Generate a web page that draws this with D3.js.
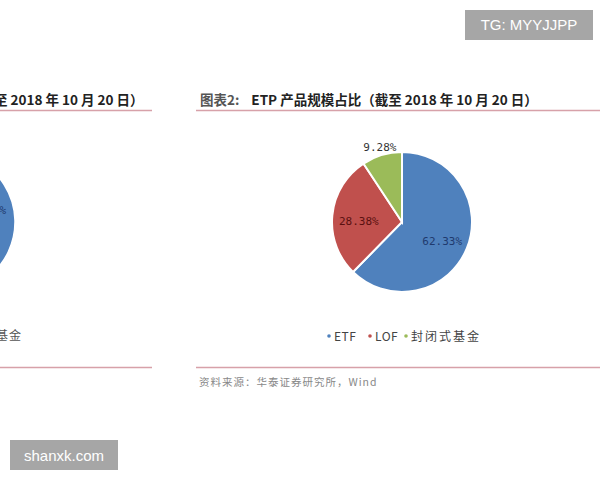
<!DOCTYPE html>
<html><head><meta charset="utf-8">
<script src="https://cdn.jsdelivr.net/npm/d3@7"></script>
<style>body{margin:0;background:#fff}svg{display:block}</style>
</head><body>
<script>
// Data
const categories = ["ETF", "LOF", "封闭式基金"];
const shareValues = [62.33, 28.38, 9.28];
const shareLabels = ["62.33%", "28.38%", "9.28%"];
const leftValues = [64.0, 26.0, 10.0]; // left chart, only a fragment visible
const colors = ["#4f81bd", "#c0504d", "#9bbb59"];
const labelColors = ["#1f3a6e", "#5a1010", "#333333"];
const titleText = "ETP 产品规模占比（截至 2018 年 10 月 20 日）";
const leftTitleText = "至 2018 年 10 月 20 日）";
const sourceText = "资料来源：华泰证券研究所，Wind";

const W = 600, H = 480;
const svg = d3.select("body").append("svg").attr("width", W).attr("height", H);

const cjk = "'Noto Sans CJK SC', sans-serif";
const pie = d3.pie().sort(null).value(d => d);
const r = 70;
const arc = d3.arc().innerRadius(0).outerRadius(r);

// ---- Left chart fragment ----
svg.append("text").attr("x", -6).attr("y", 105).attr("font-family", cjk)
  .attr("font-size", 13.5).attr("font-weight", "bold").attr("fill", "#222").text(leftTitleText);
svg.append("line").attr("x1", 0).attr("x2", 152).attr("y1", 110.5).attr("y2", 110.5)
  .attr("stroke", "#d7a1a9").attr("stroke-width", 1.5);
const gl = svg.append("g").attr("transform", "translate(-55,222)");
gl.selectAll("path").data(pie(leftValues)).join("path")
  .attr("d", arc).attr("fill", (d, i) => colors[i]).attr("stroke", "#fff").attr("stroke-width", 1.5);
gl.append("text").attr("x", 61).attr("y", -8).attr("font-family", "'DejaVu Sans Mono', monospace")
  .attr("font-size", 11).attr("fill", labelColors[0]).attr("text-anchor", "end").text("%");
svg.append("text").attr("x", 22).attr("y", 340).attr("text-anchor", "end").attr("font-family", cjk)
  .attr("font-size", 12).attr("letter-spacing", 1).attr("fill", "#555").text("基金");
svg.append("line").attr("x1", 0).attr("x2", 152).attr("y1", 367.5).attr("y2", 367.5)
  .attr("stroke", "#d7a1a9").attr("stroke-width", 1.5);

// ---- Right chart ----
const title = svg.append("text").attr("x", 200).attr("y", 105).attr("font-family", cjk)
  .attr("font-size", 13.5).attr("font-weight", "bold").attr("fill", "#222");
title.append("tspan").attr("fill", "#555").text("图表2:");
title.append("tspan").attr("dx", 12).text(titleText);
svg.append("line").attr("x1", 196).attr("x2", 600).attr("y1", 110.5).attr("y2", 110.5)
  .attr("stroke", "#d7a1a9").attr("stroke-width", 1.5);

const cx = 402, cy = 222;
const g = svg.append("g").attr("transform", `translate(${cx},${cy})`);
const arcs = pie(shareValues);
g.selectAll("path").data(arcs).join("path")
  .attr("d", arc).attr("fill", (d, i) => colors[i]).attr("stroke", "#fff").attr("stroke-width", 2);

const labelArc = d3.arc().innerRadius(r * 0.62).outerRadius(r * 0.62);
const outerArc = d3.arc().innerRadius(r * 1.1).outerRadius(r * 1.1);
g.selectAll("text.lbl").data(arcs).join("text").attr("class", "lbl")
  .attr("transform", (d, i) => {
    if (i === 2) { const c = outerArc.centroid(d); return `translate(${c[0]},${-r - 5})`; }
    const c = labelArc.centroid(d); return `translate(${c[0]},${c[1] + 3})`;
  })
  .attr("dy", "0.35em").attr("text-anchor", "middle")
  .attr("font-family", "'DejaVu Sans Mono', monospace").attr("font-size", 11)
  .attr("fill", (d, i) => labelColors[i]).text((d, i) => shareLabels[i]);

// Legend
const legendX = [329, 370, 406];
const lg = svg.append("g").attr("font-family", cjk).attr("font-size", 12);
categories.forEach((c, i) => {
  lg.append("circle").attr("cx", legendX[i]).attr("cy", 336).attr("r", 1.8).attr("fill", colors[i]);
  lg.append("text").attr("x", legendX[i] + 5).attr("y", 340.5).attr("letter-spacing", i === 2 ? 2 : 0.5)
    .attr("fill", "#444").text(c);
});

svg.append("line").attr("x1", 196).attr("x2", 600).attr("y1", 367.5).attr("y2", 367.5)
  .attr("stroke", "#d7a1a9").attr("stroke-width", 1.5);
svg.append("text").attr("x", 199).attr("y", 386).attr("font-family", cjk)
  .attr("font-size", 10.5).attr("letter-spacing", 1).attr("fill", "#888").text(sourceText);

// Watermarks
svg.append("rect").attr("x", 465).attr("y", 10).attr("width", 128).attr("height", 30).attr("fill", "#a6a6a6");
svg.append("text").attr("x", 529).attr("y", 30).attr("text-anchor", "middle")
  .attr("font-family", "'Liberation Sans', Arial, sans-serif").attr("font-size", 15).attr("fill", "#fff").text("TG: MYYJJPP");
svg.append("rect").attr("x", 10).attr("y", 440).attr("width", 108).attr("height", 30).attr("fill", "#a6a6a6");
svg.append("text").attr("x", 64).attr("y", 461).attr("text-anchor", "middle")
  .attr("font-family", "'Liberation Sans', Arial, sans-serif").attr("font-size", 15).attr("fill", "#fff").text("shanxk.com");
</script>
</body></html>
